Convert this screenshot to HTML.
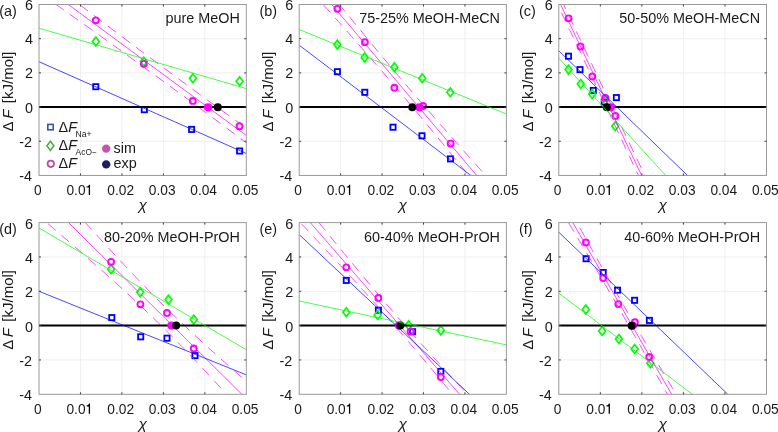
<!DOCTYPE html><html><head><meta charset="utf-8"><style>html,body{margin:0;padding:0;background:#fff;}svg{display:block;}text{font-family:"Liberation Sans",sans-serif;}</style></head><body>
<div style="will-change:transform">
<svg width="778" height="432" viewBox="0 0 778 432">
<defs>
<clipPath id="ca"><rect x="39" y="4.5" width="207.3" height="170.95"/></clipPath>
<clipPath id="cb"><rect x="299.2" y="4.5" width="207.2" height="170.95"/></clipPath>
<clipPath id="cc"><rect x="558.8" y="4.5" width="207.7" height="170.95"/></clipPath>
<clipPath id="cd"><rect x="39" y="222.6" width="207.3" height="171.7"/></clipPath>
<clipPath id="ce"><rect x="299.2" y="222.6" width="207.2" height="171.7"/></clipPath>
<clipPath id="cf"><rect x="558.8" y="222.6" width="207.7" height="171.7"/></clipPath>
</defs>
<path d="M80.46 4.5V175.45M121.92 4.5V175.45M163.38 4.5V175.45M204.84 4.5V175.45M39 38.69H246.3M39 72.88H246.3M39 107.07H246.3M39 141.26H246.3" stroke="#efefef" stroke-width="1" fill="none"/>
<g clip-path="url(#ca)">
<rect x="93.2" y="84.1" width="5.2" height="5.2" fill="none" stroke="#0000ff" stroke-width="1.8"/>
<rect x="141.7" y="107.1" width="5.2" height="5.2" fill="none" stroke="#0000ff" stroke-width="1.8"/>
<rect x="189" y="126.8" width="5.2" height="5.2" fill="none" stroke="#0000ff" stroke-width="1.8"/>
<rect x="237" y="148.4" width="5.2" height="5.2" fill="none" stroke="#0000ff" stroke-width="1.8"/>
<path d="M95.8 37.1L99.2 41.5L95.8 45.9L92.4 41.5Z" fill="none" stroke="#00ff00" stroke-width="1.7"/>
<path d="M143.8 57.2L147.2 61.6L143.8 66L140.4 61.6Z" fill="none" stroke="#00ff00" stroke-width="1.7"/>
<path d="M192.9 73.9L196.3 78.3L192.9 82.7L189.5 78.3Z" fill="none" stroke="#00ff00" stroke-width="1.7"/>
<path d="M239.6 76.9L243 81.3L239.6 85.7L236.2 81.3Z" fill="none" stroke="#00ff00" stroke-width="1.7"/>
<circle cx="95.8" cy="20.3" r="2.95" fill="none" stroke="#ff00ff" stroke-width="1.9"/>
<circle cx="143.8" cy="63.8" r="2.95" fill="none" stroke="#ff00ff" stroke-width="1.9"/>
<circle cx="192.8" cy="100.9" r="2.95" fill="none" stroke="#ff00ff" stroke-width="1.9"/>
<circle cx="239.5" cy="126.2" r="2.95" fill="none" stroke="#ff00ff" stroke-width="1.9"/>
<path d="M34 -20.66L251.3 139.18" stroke="#ff00ff" stroke-width="0.72" fill="none"/>
<path d="M34 -30.27L36 -28.73L38 -27.2L40 -25.67L42 -24.13L44 -22.6L46 -21.07L48 -19.54L50 -18.01L52 -16.47L54 -14.94L56 -13.41L58 -11.89L60 -10.36L62 -8.83L64 -7.3L66 -5.77L68 -4.25L70 -2.72L72 -1.2L74 0.33L76 1.85L78 3.38L80 4.9L82 6.42L84 7.94L86 9.46L88 10.98L90 12.5L92 14.02L94 15.54L96 17.06L98 18.57L100 20.09L102 21.6L104 23.12L106 24.63L108 26.14L110 27.65L112 29.16L114 30.67L116 32.18L118 33.69L120 35.2L122 36.7L124 38.21L126 39.71L128 41.22L130 42.72L132 44.22L134 45.72L136 47.22L138 48.72L140 50.22L142 51.71L144 53.21L146 54.7L148 56.2L150 57.69L152 59.18L154 60.67L156 62.16L158 63.64L160 65.13L162 66.62L164 68.1L166 69.58L168 71.06L170 72.54L172 74.02L174 75.5L176 76.98L178 78.46L180 79.93L182 81.4L184 82.88L186 84.35L188 85.82L190 87.29L192 88.75L194 90.22L196 91.68L198 93.15L200 94.61L202 96.07L204 97.53L206 98.99L208 100.45L210 101.91L212 103.36L214 104.82L216 106.27L218 107.72L220 109.18L222 110.63L224 112.07L226 113.52L228 114.97L230 116.42L232 117.86L234 119.3L236 120.75L238 122.19L240 123.63L242 125.07L244 126.51L246 127.95L248 129.38L250 130.82" stroke="#ff00ff" stroke-width="0.72" fill="none" stroke-dasharray="10.2 7.4" stroke-dashoffset="12.68"/>
<path d="M34 -11.04L36 -9.63L38 -8.23L40 -6.82L42 -5.41L44 -4L46 -2.59L48 -1.18L50 0.23L52 1.64L54 3.05L56 4.47L58 5.88L60 7.29L62 8.71L64 10.12L66 11.54L68 12.95L70 14.37L72 15.79L74 17.2L76 18.62L78 20.04L80 21.46L82 22.88L84 24.3L86 25.72L88 27.14L90 28.57L92 29.99L94 31.41L96 32.84L98 34.27L100 35.69L102 37.12L104 38.55L106 39.98L108 41.41L110 42.84L112 44.27L114 45.7L116 47.13L118 48.57L120 50L122 51.44L124 52.88L126 54.31L128 55.75L130 57.19L132 58.63L134 60.08L136 61.52L138 62.96L140 64.41L142 65.85L144 67.3L146 68.75L148 70.2L150 71.65L152 73.1L154 74.55L156 76L158 77.46L160 78.92L162 80.37L164 81.83L166 83.29L168 84.75L170 86.21L172 87.67L174 89.14L176 90.6L178 92.07L180 93.54L182 95.01L184 96.48L186 97.95L188 99.42L190 100.89L192 102.37L194 103.84L196 105.32L198 106.8L200 108.28L202 109.76L204 111.24L206 112.72L208 114.21L210 115.69L212 117.18L214 118.67L216 120.15L218 121.64L220 123.14L222 124.63L224 126.12L226 127.61L228 129.11L230 130.61L232 132.1L234 133.6L236 135.1L238 136.6L240 138.1L242 139.6L244 141.11L246 142.61L248 144.12L250 145.62" stroke="#ff00ff" stroke-width="0.72" fill="none" stroke-dasharray="10.2 7.4" stroke-dashoffset="8.97"/>
<path d="M39 107.07H246.3" stroke="#000" stroke-width="2"/>
<circle cx="208" cy="107.3" r="4.1" fill="#ff00ff"/>
<circle cx="217.8" cy="107.3" r="4.0" fill="#000"/>
<path d="M34 59.49L251.3 155.71" stroke="#0000ff" stroke-width="0.72" fill="none"/>
<path d="M34 26.74L251.3 90.06" stroke="#00ff00" stroke-width="0.72" fill="none"/>
</g>
<rect x="39" y="4.5" width="207.3" height="170.95" fill="none" stroke="#9a9a9a" stroke-width="1"/>
<path d="M80.46 175.45v-2M80.46 4.5v2M121.92 175.45v-2M121.92 4.5v2M163.38 175.45v-2M163.38 4.5v2M204.84 175.45v-2M204.84 4.5v2M39 38.69h2M246.3 38.69h-2M39 72.88h2M246.3 72.88h-2M39 107.07h2M246.3 107.07h-2M39 141.26h2M246.3 141.26h-2" stroke="#404040" stroke-width="1" fill="none"/>
<text transform="translate(37.8 0) scale(0.955 1)" x="0" y="194.95" font-size="14.4" text-anchor="middle" fill="#1a1a1a">0</text>
<text transform="translate(66.46 0) scale(0.955 1)" x="0" y="194.95" font-size="14.4" fill="#1a1a1a">0.0</text>
<path d="M90.04 194.95V184.75H89.01C88.76 185.85 87.96 186.45 86.56 186.55V187.6H88.75V194.95Z" fill="#000"/>
<text transform="translate(120.72 0) scale(0.955 1)" x="0" y="194.95" font-size="14.4" text-anchor="middle" fill="#1a1a1a">0.02</text>
<text transform="translate(162.18 0) scale(0.955 1)" x="0" y="194.95" font-size="14.4" text-anchor="middle" fill="#1a1a1a">0.03</text>
<text transform="translate(203.64 0) scale(0.955 1)" x="0" y="194.95" font-size="14.4" text-anchor="middle" fill="#1a1a1a">0.04</text>
<text transform="translate(245.1 0) scale(0.955 1)" x="0" y="194.95" font-size="14.4" text-anchor="middle" fill="#1a1a1a">0.05</text>
<text x="33" y="10" font-size="14.4" text-anchor="end" fill="#1a1a1a">6</text>
<text x="33" y="44.19" font-size="14.4" text-anchor="end" fill="#1a1a1a">4</text>
<text x="33" y="78.38" font-size="14.4" text-anchor="end" fill="#1a1a1a">2</text>
<text x="33" y="112.57" font-size="14.4" text-anchor="end" fill="#1a1a1a">0</text>
<text x="32" y="146.76" font-size="14.4" text-anchor="end" fill="#1a1a1a">-2</text>
<text x="32" y="180.95" font-size="14.4" text-anchor="end" fill="#1a1a1a">-4</text>
<text x="239.9" y="22.7" font-size="14.4" text-anchor="end" fill="#1a1a1a">pure MeOH</text>
<text x="-0.8" y="16.3" font-size="14.4" fill="#1a1a1a">(a)</text>
<text transform="translate(12.7 131.38) rotate(-90)" font-size="15" fill="#1a1a1a"><tspan x="0">Δ</tspan><tspan x="12.6" font-style="italic">F</tspan><tspan x="28.2">[kJ/mol]</tspan></text>
<text x="142.65" y="210.45" font-size="15.4" font-style="italic" text-anchor="middle" fill="#1a1a1a">χ</text>
<path d="M340.64 4.5V175.45M382.08 4.5V175.45M423.52 4.5V175.45M464.96 4.5V175.45M299.2 38.69H506.4M299.2 72.88H506.4M299.2 107.07H506.4M299.2 141.26H506.4" stroke="#efefef" stroke-width="1" fill="none"/>
<g clip-path="url(#cb)">
<rect x="334.8" y="69.1" width="5.2" height="5.2" fill="none" stroke="#0000ff" stroke-width="1.8"/>
<rect x="362.2" y="89.7" width="5.2" height="5.2" fill="none" stroke="#0000ff" stroke-width="1.8"/>
<rect x="390.4" y="124.6" width="5.2" height="5.2" fill="none" stroke="#0000ff" stroke-width="1.8"/>
<rect x="419.4" y="133.2" width="5.2" height="5.2" fill="none" stroke="#0000ff" stroke-width="1.8"/>
<rect x="447.9" y="156.3" width="5.2" height="5.2" fill="none" stroke="#0000ff" stroke-width="1.8"/>
<path d="M337.4 40.2L340.8 44.6L337.4 49L334 44.6Z" fill="none" stroke="#00ff00" stroke-width="1.7"/>
<path d="M364.7 53L368.1 57.4L364.7 61.8L361.3 57.4Z" fill="none" stroke="#00ff00" stroke-width="1.7"/>
<path d="M394.4 62.9L397.8 67.3L394.4 71.7L391 67.3Z" fill="none" stroke="#00ff00" stroke-width="1.7"/>
<path d="M422.2 73.8L425.6 78.2L422.2 82.6L418.8 78.2Z" fill="none" stroke="#00ff00" stroke-width="1.7"/>
<path d="M450.3 87.9L453.7 92.3L450.3 96.7L446.9 92.3Z" fill="none" stroke="#00ff00" stroke-width="1.7"/>
<circle cx="337.4" cy="8.8" r="2.95" fill="none" stroke="#ff00ff" stroke-width="1.9"/>
<circle cx="364.9" cy="42.2" r="2.95" fill="none" stroke="#ff00ff" stroke-width="1.9"/>
<circle cx="394.4" cy="87.7" r="2.95" fill="none" stroke="#ff00ff" stroke-width="1.9"/>
<circle cx="423.1" cy="106" r="2.95" fill="none" stroke="#ff00ff" stroke-width="1.9"/>
<circle cx="450.6" cy="143.6" r="2.95" fill="none" stroke="#ff00ff" stroke-width="1.9"/>
<path d="M294.2 -39.72L511.4 216.39" stroke="#ff00ff" stroke-width="0.72" fill="none"/>
<path d="M294.2 -51.72L296.2 -49.21L298.2 -46.71L300.2 -44.22L302.2 -41.72L304.2 -39.22L306.2 -36.73L308.2 -34.23L310.2 -31.74L312.2 -29.25L314.2 -26.76L316.2 -24.27L318.2 -21.79L320.2 -19.3L322.2 -16.82L324.2 -14.33L326.2 -11.85L328.2 -9.38L330.2 -6.9L332.2 -4.42L334.2 -1.95L336.2 0.52L338.2 2.99L340.2 5.45L342.2 7.92L344.2 10.38L346.2 12.84L348.2 15.29L350.2 17.75L352.2 20.2L354.2 22.65L356.2 25.09L358.2 27.53L360.2 29.97L362.2 32.41L364.2 34.84L366.2 37.27L368.2 39.7L370.2 42.12L372.2 44.54L374.2 46.95L376.2 49.36L378.2 51.77L380.2 54.17L382.2 56.57L384.2 58.97L386.2 61.36L388.2 63.74L390.2 66.13L392.2 68.5L394.2 70.88L396.2 73.24L398.2 75.61L400.2 77.97L402.2 80.32L404.2 82.68L406.2 85.02L408.2 87.37L410.2 89.7L412.2 92.04L414.2 94.37L416.2 96.69L418.2 99.01L420.2 101.33L422.2 103.64L424.2 105.95L426.2 108.25L428.2 110.56L430.2 112.85L432.2 115.15L434.2 117.44L436.2 119.72L438.2 122.01L440.2 124.29L442.2 126.56L444.2 128.84L446.2 131.11L448.2 133.38L450.2 135.64L452.2 137.9L454.2 140.16L456.2 142.42L458.2 144.67L460.2 146.93L462.2 149.18L464.2 151.42L466.2 153.67L468.2 155.91L470.2 158.15L472.2 160.39L474.2 162.63L476.2 164.87L478.2 167.1L480.2 169.33L482.2 171.56L484.2 173.79L486.2 176.02L488.2 178.25L490.2 180.47L492.2 182.7L494.2 184.92L496.2 187.14L498.2 189.36L500.2 191.58L502.2 193.8L504.2 196.01L506.2 198.23L508.2 200.44L510.2 202.66" stroke="#ff00ff" stroke-width="0.72" fill="none" stroke-dasharray="10.2 7.4" stroke-dashoffset="0.17"/>
<path d="M294.2 -27.72L296.2 -25.5L298.2 -23.29L300.2 -21.07L302.2 -18.85L304.2 -16.63L306.2 -14.41L308.2 -12.18L310.2 -9.96L312.2 -7.73L314.2 -5.51L316.2 -3.28L318.2 -1.05L320.2 1.18L322.2 3.41L324.2 5.65L326.2 7.88L328.2 10.12L330.2 12.36L332.2 14.6L334.2 16.85L336.2 19.09L338.2 21.34L340.2 23.59L342.2 25.84L344.2 28.1L346.2 30.36L348.2 32.62L350.2 34.88L352.2 37.15L354.2 39.41L356.2 41.68L358.2 43.96L360.2 46.24L362.2 48.52L364.2 50.8L366.2 53.09L368.2 55.38L370.2 57.67L372.2 59.97L374.2 62.27L376.2 64.58L378.2 66.89L380.2 69.2L382.2 71.52L384.2 73.84L386.2 76.17L388.2 78.5L390.2 80.83L392.2 83.17L394.2 85.51L396.2 87.86L398.2 90.21L400.2 92.57L402.2 94.93L404.2 97.3L406.2 99.67L408.2 102.04L410.2 104.42L412.2 106.8L414.2 109.19L416.2 111.58L418.2 113.97L420.2 116.37L422.2 118.78L424.2 121.19L426.2 123.6L428.2 126.01L430.2 128.43L432.2 130.86L434.2 133.28L436.2 135.71L438.2 138.14L440.2 140.58L442.2 143.02L444.2 145.46L446.2 147.91L448.2 150.36L450.2 152.81L452.2 155.26L454.2 157.72L456.2 160.18L458.2 162.64L460.2 165.11L462.2 167.57L464.2 170.04L466.2 172.51L468.2 174.99L470.2 177.46L472.2 179.94L474.2 182.42L476.2 184.9L478.2 187.38L480.2 189.86L482.2 192.35L484.2 194.84L486.2 197.33L488.2 199.82L490.2 202.31L492.2 204.8L494.2 207.29L496.2 209.79L498.2 212.29L500.2 214.78L502.2 217.28L504.2 219.78L506.2 222.28L508.2 224.78L510.2 227.29" stroke="#ff00ff" stroke-width="0.72" fill="none" stroke-dasharray="10.2 7.4" stroke-dashoffset="9.19"/>
<path d="M299.2 107.07H506.4" stroke="#000" stroke-width="2"/>
<circle cx="419.3" cy="107.3" r="4.1" fill="#ff00ff"/>
<circle cx="412.3" cy="107.3" r="4.0" fill="#000"/>
<path d="M294.2 41.41L511.4 206.18" stroke="#0000ff" stroke-width="0.72" fill="none"/>
<path d="M294.2 27.46L511.4 116.04" stroke="#00ff00" stroke-width="0.72" fill="none"/>
</g>
<rect x="299.2" y="4.5" width="207.2" height="170.95" fill="none" stroke="#9a9a9a" stroke-width="1"/>
<path d="M340.64 175.45v-2M340.64 4.5v2M382.08 175.45v-2M382.08 4.5v2M423.52 175.45v-2M423.52 4.5v2M464.96 175.45v-2M464.96 4.5v2M299.2 38.69h2M506.4 38.69h-2M299.2 72.88h2M506.4 72.88h-2M299.2 107.07h2M506.4 107.07h-2M299.2 141.26h2M506.4 141.26h-2" stroke="#404040" stroke-width="1" fill="none"/>
<text transform="translate(298 0) scale(0.955 1)" x="0" y="194.95" font-size="14.4" text-anchor="middle" fill="#1a1a1a">0</text>
<text transform="translate(326.64 0) scale(0.955 1)" x="0" y="194.95" font-size="14.4" fill="#1a1a1a">0.0</text>
<path d="M350.22 194.95V184.75H349.19C348.94 185.85 348.14 186.45 346.74 186.55V187.6H348.93V194.95Z" fill="#000"/>
<text transform="translate(380.88 0) scale(0.955 1)" x="0" y="194.95" font-size="14.4" text-anchor="middle" fill="#1a1a1a">0.02</text>
<text transform="translate(422.32 0) scale(0.955 1)" x="0" y="194.95" font-size="14.4" text-anchor="middle" fill="#1a1a1a">0.03</text>
<text transform="translate(463.76 0) scale(0.955 1)" x="0" y="194.95" font-size="14.4" text-anchor="middle" fill="#1a1a1a">0.04</text>
<text transform="translate(505.2 0) scale(0.955 1)" x="0" y="194.95" font-size="14.4" text-anchor="middle" fill="#1a1a1a">0.05</text>
<text x="293.2" y="10" font-size="14.4" text-anchor="end" fill="#1a1a1a">6</text>
<text x="293.2" y="44.19" font-size="14.4" text-anchor="end" fill="#1a1a1a">4</text>
<text x="293.2" y="78.38" font-size="14.4" text-anchor="end" fill="#1a1a1a">2</text>
<text x="293.2" y="112.57" font-size="14.4" text-anchor="end" fill="#1a1a1a">0</text>
<text x="292.2" y="146.76" font-size="14.4" text-anchor="end" fill="#1a1a1a">-2</text>
<text x="292.2" y="180.95" font-size="14.4" text-anchor="end" fill="#1a1a1a">-4</text>
<text x="500" y="22.7" font-size="14.4" text-anchor="end" fill="#1a1a1a">75-25% MeOH-MeCN</text>
<text x="259.4" y="16.3" font-size="14.4" fill="#1a1a1a">(b)</text>
<text transform="translate(272.9 131.38) rotate(-90)" font-size="15" fill="#1a1a1a"><tspan x="0">Δ</tspan><tspan x="12.6" font-style="italic">F</tspan><tspan x="28.2">[kJ/mol]</tspan></text>
<text x="402.8" y="210.45" font-size="15.4" font-style="italic" text-anchor="middle" fill="#1a1a1a">χ</text>
<path d="M600.34 4.5V175.45M641.88 4.5V175.45M683.42 4.5V175.45M724.96 4.5V175.45M558.8 38.69H766.5M558.8 72.88H766.5M558.8 107.07H766.5M558.8 141.26H766.5" stroke="#efefef" stroke-width="1" fill="none"/>
<g clip-path="url(#cc)">
<rect x="565.9" y="53.6" width="5.2" height="5.2" fill="none" stroke="#0000ff" stroke-width="1.8"/>
<rect x="577.4" y="67" width="5.2" height="5.2" fill="none" stroke="#0000ff" stroke-width="1.8"/>
<rect x="590.7" y="87.9" width="5.2" height="5.2" fill="none" stroke="#0000ff" stroke-width="1.8"/>
<rect x="601.7" y="99.4" width="5.2" height="5.2" fill="none" stroke="#0000ff" stroke-width="1.8"/>
<rect x="613.8" y="95" width="5.2" height="5.2" fill="none" stroke="#0000ff" stroke-width="1.8"/>
<path d="M568.5 65.2L571.9 69.6L568.5 74L565.1 69.6Z" fill="none" stroke="#00ff00" stroke-width="1.7"/>
<path d="M580.8 79.6L584.2 84L580.8 88.4L577.4 84Z" fill="none" stroke="#00ff00" stroke-width="1.7"/>
<path d="M592.2 89.6L595.6 94L592.2 98.4L588.8 94Z" fill="none" stroke="#00ff00" stroke-width="1.7"/>
<path d="M605.3 96.1L608.7 100.5L605.3 104.9L601.9 100.5Z" fill="none" stroke="#00ff00" stroke-width="1.7"/>
<path d="M615.2 121.8L618.6 126.2L615.2 130.6L611.8 126.2Z" fill="none" stroke="#00ff00" stroke-width="1.7"/>
<circle cx="568.6" cy="18.3" r="2.95" fill="none" stroke="#ff00ff" stroke-width="1.9"/>
<circle cx="580.5" cy="46.5" r="2.95" fill="none" stroke="#ff00ff" stroke-width="1.9"/>
<circle cx="592.3" cy="76.5" r="2.95" fill="none" stroke="#ff00ff" stroke-width="1.9"/>
<circle cx="605.4" cy="98" r="2.95" fill="none" stroke="#ff00ff" stroke-width="1.9"/>
<circle cx="615.3" cy="116" r="2.95" fill="none" stroke="#ff00ff" stroke-width="1.9"/>
<path d="M553.8 -9.85L771.5 449.6" stroke="#ff00ff" stroke-width="0.72" fill="none"/>
<path d="M553.8 -16.34L555.8 -12.09L557.8 -7.84L559.8 -3.59L561.8 0.65L563.8 4.9L565.8 9.14L567.8 13.38L569.8 17.62L571.8 21.86L573.8 26.09L575.8 30.33L577.8 34.56L579.8 38.79L581.8 43.02L583.8 47.25L585.8 51.48L587.8 55.7L589.8 59.93L591.8 64.15L593.8 68.37L595.8 72.59L597.8 76.8L599.8 81.02L601.8 85.23L603.8 89.45L605.8 93.66L607.8 97.87L609.8 102.07L611.8 106.28L613.8 110.48L615.8 114.69L617.8 118.89L619.8 123.09L621.8 127.29L623.8 131.48L625.8 135.68L627.8 139.87L629.8 144.06L631.8 148.26L633.8 152.45L635.8 156.63L637.8 160.82L639.8 165.01L641.8 169.19L643.8 173.37L645.8 177.56L647.8 181.74L649.8 185.92L651.8 190.09L653.8 194.27L655.8 198.45L657.8 202.62L659.8 206.79L661.8 210.97L663.8 215.14L665.8 219.31L667.8 223.48L669.8 227.65L671.8 231.81L673.8 235.98L675.8 240.15L677.8 244.31L679.8 248.47L681.8 252.64L683.8 256.8L685.8 260.96L687.8 265.12L689.8 269.28L691.8 273.44L693.8 277.6L695.8 281.75L697.8 285.91L699.8 290.07L701.8 294.22L703.8 298.37L705.8 302.53L707.8 306.68L709.8 310.83L711.8 314.99L713.8 319.14L715.8 323.29L717.8 327.44L719.8 331.59L721.8 335.74L723.8 339.88L725.8 344.03L727.8 348.18L729.8 352.33L731.8 356.47L733.8 360.62L735.8 364.76L737.8 368.91L739.8 373.05L741.8 377.2L743.8 381.34L745.8 385.49L747.8 389.63L749.8 393.77L751.8 397.91L753.8 402.05L755.8 406.2L757.8 410.34L759.8 414.48L761.8 418.62L763.8 422.76L765.8 426.9L767.8 431.04L769.8 435.18" stroke="#ff00ff" stroke-width="0.72" fill="none" stroke-dasharray="10.2 7.4" stroke-dashoffset="0"/>
<path d="M553.8 -3.36L555.8 0.83L557.8 5.02L559.8 9.22L561.8 13.41L563.8 17.61L565.8 21.81L567.8 26.01L569.8 30.22L571.8 34.42L573.8 38.62L575.8 42.83L577.8 47.04L579.8 51.25L581.8 55.46L583.8 59.68L585.8 63.89L587.8 68.11L589.8 72.33L591.8 76.55L593.8 80.77L595.8 84.99L597.8 89.22L599.8 93.44L601.8 97.67L603.8 101.9L605.8 106.13L607.8 110.37L609.8 114.6L611.8 118.84L613.8 123.07L615.8 127.31L617.8 131.55L619.8 135.8L621.8 140.04L623.8 144.28L625.8 148.53L627.8 152.78L629.8 157.03L631.8 161.28L633.8 165.53L635.8 169.78L637.8 174.04L639.8 178.3L641.8 182.55L643.8 186.81L645.8 191.07L647.8 195.33L649.8 199.6L651.8 203.86L653.8 208.13L655.8 212.39L657.8 216.66L659.8 220.93L661.8 225.2L663.8 229.47L665.8 233.74L667.8 238.01L669.8 242.29L671.8 246.56L673.8 250.84L675.8 255.11L677.8 259.39L679.8 263.67L681.8 267.95L683.8 272.23L685.8 276.51L687.8 280.79L689.8 285.07L691.8 289.36L693.8 293.64L695.8 297.92L697.8 302.21L699.8 306.5L701.8 310.78L703.8 315.07L705.8 319.36L707.8 323.65L709.8 327.94L711.8 332.23L713.8 336.52L715.8 340.81L717.8 345.1L719.8 349.39L721.8 353.69L723.8 357.98L725.8 362.27L727.8 366.57L729.8 370.86L731.8 375.16L733.8 379.46L735.8 383.75L737.8 388.05L739.8 392.35L741.8 396.64L743.8 400.94L745.8 405.24L747.8 409.54L749.8 413.84L751.8 418.14L753.8 422.44L755.8 426.74L757.8 431.04L759.8 435.34L761.8 439.64L763.8 443.95L765.8 448.25L767.8 452.55L769.8 456.85" stroke="#ff00ff" stroke-width="0.72" fill="none" stroke-dasharray="10.2 7.4" stroke-dashoffset="0"/>
<path d="M558.8 107.07H766.5" stroke="#000" stroke-width="2"/>
<circle cx="610.8" cy="107.3" r="4.1" fill="#ff00ff"/>
<circle cx="606.8" cy="107.3" r="4.0" fill="#000"/>
<path d="M553.8 45.96L771.5 256.88" stroke="#0000ff" stroke-width="0.72" fill="none"/>
<path d="M553.8 52.71L771.5 291.61" stroke="#00ff00" stroke-width="0.72" fill="none"/>
</g>
<rect x="558.8" y="4.5" width="207.7" height="170.95" fill="none" stroke="#9a9a9a" stroke-width="1"/>
<path d="M600.34 175.45v-2M600.34 4.5v2M641.88 175.45v-2M641.88 4.5v2M683.42 175.45v-2M683.42 4.5v2M724.96 175.45v-2M724.96 4.5v2M558.8 38.69h2M766.5 38.69h-2M558.8 72.88h2M766.5 72.88h-2M558.8 107.07h2M766.5 107.07h-2M558.8 141.26h2M766.5 141.26h-2" stroke="#404040" stroke-width="1" fill="none"/>
<text transform="translate(557.6 0) scale(0.955 1)" x="0" y="194.95" font-size="14.4" text-anchor="middle" fill="#1a1a1a">0</text>
<text transform="translate(586.34 0) scale(0.955 1)" x="0" y="194.95" font-size="14.4" fill="#1a1a1a">0.0</text>
<path d="M609.92 194.95V184.75H608.89C608.64 185.85 607.84 186.45 606.44 186.55V187.6H608.63V194.95Z" fill="#000"/>
<text transform="translate(640.68 0) scale(0.955 1)" x="0" y="194.95" font-size="14.4" text-anchor="middle" fill="#1a1a1a">0.02</text>
<text transform="translate(682.22 0) scale(0.955 1)" x="0" y="194.95" font-size="14.4" text-anchor="middle" fill="#1a1a1a">0.03</text>
<text transform="translate(723.76 0) scale(0.955 1)" x="0" y="194.95" font-size="14.4" text-anchor="middle" fill="#1a1a1a">0.04</text>
<text transform="translate(765.3 0) scale(0.955 1)" x="0" y="194.95" font-size="14.4" text-anchor="middle" fill="#1a1a1a">0.05</text>
<text x="552.8" y="10" font-size="14.4" text-anchor="end" fill="#1a1a1a">6</text>
<text x="552.8" y="44.19" font-size="14.4" text-anchor="end" fill="#1a1a1a">4</text>
<text x="552.8" y="78.38" font-size="14.4" text-anchor="end" fill="#1a1a1a">2</text>
<text x="552.8" y="112.57" font-size="14.4" text-anchor="end" fill="#1a1a1a">0</text>
<text x="551.8" y="146.76" font-size="14.4" text-anchor="end" fill="#1a1a1a">-2</text>
<text x="551.8" y="180.95" font-size="14.4" text-anchor="end" fill="#1a1a1a">-4</text>
<text x="760.1" y="22.7" font-size="14.4" text-anchor="end" fill="#1a1a1a">50-50% MeOH-MeCN</text>
<text x="519" y="16.3" font-size="14.4" fill="#1a1a1a">(c)</text>
<text transform="translate(532.5 131.38) rotate(-90)" font-size="15" fill="#1a1a1a"><tspan x="0">Δ</tspan><tspan x="12.6" font-style="italic">F</tspan><tspan x="28.2">[kJ/mol]</tspan></text>
<text x="662.65" y="210.45" font-size="15.4" font-style="italic" text-anchor="middle" fill="#1a1a1a">χ</text>
<path d="M80.46 222.6V394.3M121.92 222.6V394.3M163.38 222.6V394.3M204.84 222.6V394.3M39 256.94H246.3M39 291.28H246.3M39 325.62H246.3M39 359.96H246.3" stroke="#efefef" stroke-width="1" fill="none"/>
<g clip-path="url(#cd)">
<rect x="109.2" y="315" width="5.2" height="5.2" fill="none" stroke="#0000ff" stroke-width="1.8"/>
<rect x="138.1" y="334.2" width="5.2" height="5.2" fill="none" stroke="#0000ff" stroke-width="1.8"/>
<rect x="164.4" y="335.6" width="5.2" height="5.2" fill="none" stroke="#0000ff" stroke-width="1.8"/>
<rect x="192.4" y="353" width="5.2" height="5.2" fill="none" stroke="#0000ff" stroke-width="1.8"/>
<path d="M111.1 264.8L114.5 269.2L111.1 273.6L107.7 269.2Z" fill="none" stroke="#00ff00" stroke-width="1.7"/>
<path d="M140.2 287.9L143.6 292.3L140.2 296.7L136.8 292.3Z" fill="none" stroke="#00ff00" stroke-width="1.7"/>
<path d="M168.5 295.2L171.9 299.6L168.5 304L165.1 299.6Z" fill="none" stroke="#00ff00" stroke-width="1.7"/>
<path d="M193.8 315.2L197.2 319.6L193.8 324L190.4 319.6Z" fill="none" stroke="#00ff00" stroke-width="1.7"/>
<circle cx="111.1" cy="261.8" r="2.95" fill="none" stroke="#ff00ff" stroke-width="1.9"/>
<circle cx="140.4" cy="304.3" r="2.95" fill="none" stroke="#ff00ff" stroke-width="1.9"/>
<circle cx="167" cy="312.9" r="2.95" fill="none" stroke="#ff00ff" stroke-width="1.9"/>
<circle cx="193.8" cy="348.4" r="2.95" fill="none" stroke="#ff00ff" stroke-width="1.9"/>
<path d="M34 188.44L251.3 403.61" stroke="#ff00ff" stroke-width="0.72" fill="none"/>
<path d="M34 165.13L36 167.39L38 169.64L40 171.9L42 174.15L44 176.4L46 178.65L48 180.9L50 183.15L52 185.4L54 187.64L56 189.89L58 192.13L60 194.37L62 196.61L64 198.85L66 201.08L68 203.32L70 205.55L72 207.78L74 210.01L76 212.23L78 214.46L80 216.68L82 218.89L84 221.11L86 223.32L88 225.53L90 227.74L92 229.95L94 232.15L96 234.35L98 236.54L100 238.73L102 240.92L104 243.1L106 245.28L108 247.46L110 249.63L112 251.79L114 253.96L116 256.11L118 258.26L120 260.41L122 262.55L124 264.68L126 266.81L128 268.94L130 271.05L132 273.16L134 275.26L136 277.36L138 279.45L140 281.53L142 283.6L144 285.67L146 287.73L148 289.77L150 291.82L152 293.85L154 295.87L156 297.89L158 299.89L160 301.89L162 303.88L164 305.86L166 307.83L168 309.8L170 311.75L172 313.7L174 315.63L176 317.56L178 319.48L180 321.39L182 323.3L184 325.19L186 327.08L188 328.96L190 330.83L192 332.7L194 334.55L196 336.41L198 338.25L200 340.09L202 341.92L204 343.75L206 345.57L208 347.38L210 349.19L212 351L214 352.79L216 354.59L218 356.38L220 358.16L222 359.95L224 361.72L226 363.5L228 365.27L230 367.03L232 368.8L234 370.55L236 372.31L238 374.06L240 375.81L242 377.56L244 379.31L246 381.05L248 382.79L250 384.53" stroke="#ff00ff" stroke-width="0.72" fill="none" stroke-dasharray="10.2 7.4" stroke-dashoffset="12.03"/>
<path d="M34 211.74L36 213.45L38 215.15L40 216.86L42 218.57L44 220.28L46 221.99L48 223.7L50 225.41L52 227.12L54 228.84L56 230.56L58 232.28L60 234L62 235.72L64 237.44L66 239.17L68 240.89L70 242.62L72 244.35L74 246.09L76 247.82L78 249.56L80 251.3L82 253.04L84 254.79L86 256.53L88 258.28L90 260.04L92 261.79L94 263.55L96 265.31L98 267.08L100 268.85L102 270.62L104 272.4L106 274.18L108 275.97L110 277.76L112 279.55L114 281.35L116 283.16L118 284.97L120 286.78L122 288.6L124 290.43L126 292.26L128 294.1L130 295.94L132 297.79L134 299.65L136 301.52L138 303.39L140 305.27L142 307.16L144 309.05L146 310.96L148 312.87L150 314.79L152 316.71L154 318.65L156 320.6L158 322.55L160 324.51L162 326.48L164 328.46L166 330.45L168 332.45L170 334.46L172 336.47L174 338.5L176 340.53L178 342.57L180 344.62L182 346.68L184 348.74L186 350.82L188 352.9L190 354.99L192 357.08L194 359.19L196 361.29L198 363.41L200 365.53L202 367.66L204 369.8L206 371.94L208 374.08L210 376.23L212 378.39L214 380.55L216 382.72L218 384.89L220 387.06L222 389.24L224 391.43L226 393.61L228 395.81L230 398L232 400.2L234 402.4L236 404.6L238 406.81L240 409.02L242 411.24L244 413.45L246 415.67L248 417.89L250 420.12" stroke="#ff00ff" stroke-width="0.72" fill="none" stroke-dasharray="10.2 7.4" stroke-dashoffset="16.63"/>
<path d="M39 325.62H246.3" stroke="#000" stroke-width="2"/>
<circle cx="171.4" cy="325.6" r="4.1" fill="#ff00ff"/>
<circle cx="176.1" cy="325.6" r="4.0" fill="#000"/>
<path d="M34 289.28L251.3 376.88" stroke="#0000ff" stroke-width="0.72" fill="none"/>
<path d="M34 225.06L251.3 352.68" stroke="#00ff00" stroke-width="0.72" fill="none"/>
</g>
<rect x="39" y="222.6" width="207.3" height="171.7" fill="none" stroke="#9a9a9a" stroke-width="1"/>
<path d="M80.46 394.3v-2M80.46 222.6v2M121.92 394.3v-2M121.92 222.6v2M163.38 394.3v-2M163.38 222.6v2M204.84 394.3v-2M204.84 222.6v2M39 256.94h2M246.3 256.94h-2M39 291.28h2M246.3 291.28h-2M39 325.62h2M246.3 325.62h-2M39 359.96h2M246.3 359.96h-2" stroke="#404040" stroke-width="1" fill="none"/>
<text transform="translate(37.8 0) scale(0.955 1)" x="0" y="413.8" font-size="14.4" text-anchor="middle" fill="#1a1a1a">0</text>
<text transform="translate(66.46 0) scale(0.955 1)" x="0" y="413.8" font-size="14.4" fill="#1a1a1a">0.0</text>
<path d="M90.04 413.8V403.6H89.01C88.76 404.7 87.96 405.3 86.56 405.4V406.45H88.75V413.8Z" fill="#000"/>
<text transform="translate(120.72 0) scale(0.955 1)" x="0" y="413.8" font-size="14.4" text-anchor="middle" fill="#1a1a1a">0.02</text>
<text transform="translate(162.18 0) scale(0.955 1)" x="0" y="413.8" font-size="14.4" text-anchor="middle" fill="#1a1a1a">0.03</text>
<text transform="translate(203.64 0) scale(0.955 1)" x="0" y="413.8" font-size="14.4" text-anchor="middle" fill="#1a1a1a">0.04</text>
<text transform="translate(245.1 0) scale(0.955 1)" x="0" y="413.8" font-size="14.4" text-anchor="middle" fill="#1a1a1a">0.05</text>
<text x="33" y="228.7" font-size="14.4" text-anchor="end" fill="#1a1a1a">6</text>
<text x="33" y="263.04" font-size="14.4" text-anchor="end" fill="#1a1a1a">4</text>
<text x="33" y="297.38" font-size="14.4" text-anchor="end" fill="#1a1a1a">2</text>
<text x="33" y="331.72" font-size="14.4" text-anchor="end" fill="#1a1a1a">0</text>
<text x="32" y="366.06" font-size="14.4" text-anchor="end" fill="#1a1a1a">-2</text>
<text x="32" y="400.4" font-size="14.4" text-anchor="end" fill="#1a1a1a">-4</text>
<text x="239.9" y="241.8" font-size="14.4" text-anchor="end" fill="#1a1a1a">80-20% MeOH-PrOH</text>
<text x="-0.8" y="234.4" font-size="14.4" fill="#1a1a1a">(d)</text>
<text transform="translate(12.7 349.85) rotate(-90)" font-size="15" fill="#1a1a1a"><tspan x="0">Δ</tspan><tspan x="12.6" font-style="italic">F</tspan><tspan x="28.2">[kJ/mol]</tspan></text>
<text x="142.65" y="429.3" font-size="15.4" font-style="italic" text-anchor="middle" fill="#1a1a1a">χ</text>
<path d="M340.64 222.6V394.3M382.08 222.6V394.3M423.52 222.6V394.3M464.96 222.6V394.3M299.2 256.94H506.4M299.2 291.28H506.4M299.2 325.62H506.4M299.2 359.96H506.4" stroke="#efefef" stroke-width="1" fill="none"/>
<g clip-path="url(#ce)">
<rect x="343.7" y="277.8" width="5.2" height="5.2" fill="none" stroke="#0000ff" stroke-width="1.8"/>
<rect x="375.8" y="307.6" width="5.2" height="5.2" fill="none" stroke="#0000ff" stroke-width="1.8"/>
<rect x="410" y="329.1" width="5.2" height="5.2" fill="none" stroke="#0000ff" stroke-width="1.8"/>
<rect x="438.2" y="368.8" width="5.2" height="5.2" fill="none" stroke="#0000ff" stroke-width="1.8"/>
<path d="M346.3 307.8L349.7 312.2L346.3 316.6L342.9 312.2Z" fill="none" stroke="#00ff00" stroke-width="1.7"/>
<path d="M377.6 310.6L381 315L377.6 319.4L374.2 315Z" fill="none" stroke="#00ff00" stroke-width="1.7"/>
<path d="M408.7 320.9L412.1 325.3L408.7 329.7L405.3 325.3Z" fill="none" stroke="#00ff00" stroke-width="1.7"/>
<path d="M440.8 326L444.2 330.4L440.8 334.8L437.4 330.4Z" fill="none" stroke="#00ff00" stroke-width="1.7"/>
<circle cx="346.3" cy="267.3" r="2.95" fill="none" stroke="#ff00ff" stroke-width="1.9"/>
<circle cx="378.4" cy="297.9" r="2.95" fill="none" stroke="#ff00ff" stroke-width="1.9"/>
<circle cx="410.6" cy="331.5" r="2.95" fill="none" stroke="#ff00ff" stroke-width="1.9"/>
<circle cx="440.8" cy="377" r="2.95" fill="none" stroke="#ff00ff" stroke-width="1.9"/>
<path d="M294.2 204.08L511.4 453.87" stroke="#ff00ff" stroke-width="0.72" fill="none"/>
<path d="M294.2 192.1L296.2 194.57L298.2 197.04L300.2 199.51L302.2 201.98L304.2 204.45L306.2 206.92L308.2 209.38L310.2 211.85L312.2 214.32L314.2 216.78L316.2 219.24L318.2 221.7L320.2 224.16L322.2 226.62L324.2 229.07L326.2 231.53L328.2 233.98L330.2 236.43L332.2 238.88L334.2 241.33L336.2 243.77L338.2 246.21L340.2 248.65L342.2 251.09L344.2 253.53L346.2 255.96L348.2 258.39L350.2 260.82L352.2 263.24L354.2 265.66L356.2 268.07L358.2 270.49L360.2 272.9L362.2 275.3L364.2 277.7L366.2 280.1L368.2 282.49L370.2 284.87L372.2 287.26L374.2 289.63L376.2 292L378.2 294.37L380.2 296.73L382.2 299.08L384.2 301.43L386.2 303.77L388.2 306.11L390.2 308.44L392.2 310.76L394.2 313.08L396.2 315.39L398.2 317.69L400.2 319.98L402.2 322.27L404.2 324.56L406.2 326.83L408.2 329.1L410.2 331.37L412.2 333.62L414.2 335.87L416.2 338.12L418.2 340.36L420.2 342.59L422.2 344.82L424.2 347.04L426.2 349.26L428.2 351.47L430.2 353.68L432.2 355.88L434.2 358.08L436.2 360.28L438.2 362.47L440.2 364.65L442.2 366.84L444.2 369.02L446.2 371.19L448.2 373.37L450.2 375.54L452.2 377.7L454.2 379.87L456.2 382.03L458.2 384.19L460.2 386.35L462.2 388.5L464.2 390.66L466.2 392.81L468.2 394.96L470.2 397.1L472.2 399.25L474.2 401.39L476.2 403.53L478.2 405.67L480.2 407.81L482.2 409.95L484.2 412.09L486.2 414.22L488.2 416.36L490.2 418.49L492.2 420.62L494.2 422.75L496.2 424.88L498.2 427.01L500.2 429.14L502.2 431.27L504.2 433.39L506.2 435.52L508.2 437.64L510.2 439.77" stroke="#ff00ff" stroke-width="0.72" fill="none" stroke-dasharray="10.2 7.4" stroke-dashoffset="13.74"/>
<path d="M294.2 216.07L296.2 218.2L298.2 220.33L300.2 222.46L302.2 224.59L304.2 226.72L306.2 228.85L308.2 230.98L310.2 233.12L312.2 235.25L314.2 237.39L316.2 239.53L318.2 241.67L320.2 243.81L322.2 245.95L324.2 248.1L326.2 250.24L328.2 252.39L330.2 254.54L332.2 256.69L334.2 258.84L336.2 261L338.2 263.16L340.2 265.32L342.2 267.48L344.2 269.64L346.2 271.81L348.2 273.98L350.2 276.16L352.2 278.33L354.2 280.52L356.2 282.7L358.2 284.89L360.2 287.08L362.2 289.27L364.2 291.47L366.2 293.68L368.2 295.89L370.2 298.1L372.2 300.32L374.2 302.54L376.2 304.77L378.2 307.01L380.2 309.25L382.2 311.49L384.2 313.74L386.2 316L388.2 318.27L390.2 320.54L392.2 322.82L394.2 325.1L396.2 327.39L398.2 329.69L400.2 331.99L402.2 334.3L404.2 336.62L406.2 338.94L408.2 341.27L410.2 343.61L412.2 345.95L414.2 348.3L416.2 350.66L418.2 353.02L420.2 355.39L422.2 357.76L424.2 360.14L426.2 362.52L428.2 364.91L430.2 367.3L432.2 369.7L434.2 372.1L436.2 374.5L438.2 376.91L440.2 379.32L442.2 381.74L444.2 384.16L446.2 386.59L448.2 389.01L450.2 391.44L452.2 393.88L454.2 396.31L456.2 398.75L458.2 401.19L460.2 403.63L462.2 406.08L464.2 408.52L466.2 410.97L468.2 413.43L470.2 415.88L472.2 418.33L474.2 420.79L476.2 423.25L478.2 425.71L480.2 428.17L482.2 430.63L484.2 433.09L486.2 435.56L488.2 438.02L490.2 440.49L492.2 442.96L494.2 445.43L496.2 447.9L498.2 450.37L500.2 452.84L502.2 455.32L504.2 457.79L506.2 460.26L508.2 462.74L510.2 465.22" stroke="#ff00ff" stroke-width="0.72" fill="none" stroke-dasharray="10.2 7.4" stroke-dashoffset="6.93"/>
<path d="M299.2 325.62H506.4" stroke="#000" stroke-width="2"/>
<circle cx="398.9" cy="325.6" r="4.1" fill="#ff00ff"/>
<circle cx="400.4" cy="325.6" r="4.0" fill="#000"/>
<path d="M294.2 229.91L511.4 433.59" stroke="#0000ff" stroke-width="0.72" fill="none"/>
<path d="M294.2 299.94L511.4 345.96" stroke="#00ff00" stroke-width="0.72" fill="none"/>
</g>
<rect x="299.2" y="222.6" width="207.2" height="171.7" fill="none" stroke="#9a9a9a" stroke-width="1"/>
<path d="M340.64 394.3v-2M340.64 222.6v2M382.08 394.3v-2M382.08 222.6v2M423.52 394.3v-2M423.52 222.6v2M464.96 394.3v-2M464.96 222.6v2M299.2 256.94h2M506.4 256.94h-2M299.2 291.28h2M506.4 291.28h-2M299.2 325.62h2M506.4 325.62h-2M299.2 359.96h2M506.4 359.96h-2" stroke="#404040" stroke-width="1" fill="none"/>
<text transform="translate(298 0) scale(0.955 1)" x="0" y="413.8" font-size="14.4" text-anchor="middle" fill="#1a1a1a">0</text>
<text transform="translate(326.64 0) scale(0.955 1)" x="0" y="413.8" font-size="14.4" fill="#1a1a1a">0.0</text>
<path d="M350.22 413.8V403.6H349.19C348.94 404.7 348.14 405.3 346.74 405.4V406.45H348.93V413.8Z" fill="#000"/>
<text transform="translate(380.88 0) scale(0.955 1)" x="0" y="413.8" font-size="14.4" text-anchor="middle" fill="#1a1a1a">0.02</text>
<text transform="translate(422.32 0) scale(0.955 1)" x="0" y="413.8" font-size="14.4" text-anchor="middle" fill="#1a1a1a">0.03</text>
<text transform="translate(463.76 0) scale(0.955 1)" x="0" y="413.8" font-size="14.4" text-anchor="middle" fill="#1a1a1a">0.04</text>
<text transform="translate(505.2 0) scale(0.955 1)" x="0" y="413.8" font-size="14.4" text-anchor="middle" fill="#1a1a1a">0.05</text>
<text x="293.2" y="228.7" font-size="14.4" text-anchor="end" fill="#1a1a1a">6</text>
<text x="293.2" y="263.04" font-size="14.4" text-anchor="end" fill="#1a1a1a">4</text>
<text x="293.2" y="297.38" font-size="14.4" text-anchor="end" fill="#1a1a1a">2</text>
<text x="293.2" y="331.72" font-size="14.4" text-anchor="end" fill="#1a1a1a">0</text>
<text x="292.2" y="366.06" font-size="14.4" text-anchor="end" fill="#1a1a1a">-2</text>
<text x="292.2" y="400.4" font-size="14.4" text-anchor="end" fill="#1a1a1a">-4</text>
<text x="500" y="241.8" font-size="14.4" text-anchor="end" fill="#1a1a1a">60-40% MeOH-PrOH</text>
<text x="259.4" y="234.4" font-size="14.4" fill="#1a1a1a">(e)</text>
<text transform="translate(272.9 349.85) rotate(-90)" font-size="15" fill="#1a1a1a"><tspan x="0">Δ</tspan><tspan x="12.6" font-style="italic">F</tspan><tspan x="28.2">[kJ/mol]</tspan></text>
<text x="402.8" y="429.3" font-size="15.4" font-style="italic" text-anchor="middle" fill="#1a1a1a">χ</text>
<path d="M600.34 222.6V394.3M641.88 222.6V394.3M683.42 222.6V394.3M724.96 222.6V394.3M558.8 256.94H766.5M558.8 291.28H766.5M558.8 325.62H766.5M558.8 359.96H766.5" stroke="#efefef" stroke-width="1" fill="none"/>
<g clip-path="url(#cf)">
<rect x="583.5" y="256.1" width="5.2" height="5.2" fill="none" stroke="#0000ff" stroke-width="1.8"/>
<rect x="600.6" y="269.9" width="5.2" height="5.2" fill="none" stroke="#0000ff" stroke-width="1.8"/>
<rect x="614.9" y="287.6" width="5.2" height="5.2" fill="none" stroke="#0000ff" stroke-width="1.8"/>
<rect x="632" y="297.7" width="5.2" height="5.2" fill="none" stroke="#0000ff" stroke-width="1.8"/>
<rect x="646.8" y="317.8" width="5.2" height="5.2" fill="none" stroke="#0000ff" stroke-width="1.8"/>
<path d="M585.8 305L589.2 309.4L585.8 313.8L582.4 309.4Z" fill="none" stroke="#00ff00" stroke-width="1.7"/>
<path d="M602.1 326.6L605.5 331L602.1 335.4L598.7 331Z" fill="none" stroke="#00ff00" stroke-width="1.7"/>
<path d="M618.9 334.6L622.3 339L618.9 343.4L615.5 339Z" fill="none" stroke="#00ff00" stroke-width="1.7"/>
<path d="M634.6 344.6L638 349L634.6 353.4L631.2 349Z" fill="none" stroke="#00ff00" stroke-width="1.7"/>
<path d="M650.3 358.8L653.7 363.2L650.3 367.6L646.9 363.2Z" fill="none" stroke="#00ff00" stroke-width="1.7"/>
<circle cx="585.9" cy="242.4" r="2.95" fill="none" stroke="#ff00ff" stroke-width="1.9"/>
<circle cx="603.2" cy="278" r="2.95" fill="none" stroke="#ff00ff" stroke-width="1.9"/>
<circle cx="618.3" cy="304.1" r="2.95" fill="none" stroke="#ff00ff" stroke-width="1.9"/>
<circle cx="634.9" cy="322.2" r="2.95" fill="none" stroke="#ff00ff" stroke-width="1.9"/>
<circle cx="649.2" cy="357" r="2.95" fill="none" stroke="#ff00ff" stroke-width="1.9"/>
<path d="M553.8 189.58L771.5 567.91" stroke="#ff00ff" stroke-width="0.72" fill="none"/>
<path d="M553.8 180.97L555.8 184.6L557.8 188.23L559.8 191.85L561.8 195.48L563.8 199.1L565.8 202.71L567.8 206.33L569.8 209.94L571.8 213.55L573.8 217.15L575.8 220.76L577.8 224.36L579.8 227.95L581.8 231.54L583.8 235.13L585.8 238.72L587.8 242.29L589.8 245.87L591.8 249.44L593.8 253L595.8 256.56L597.8 260.12L599.8 263.66L601.8 267.2L603.8 270.74L605.8 274.27L607.8 277.79L609.8 281.31L611.8 284.82L613.8 288.32L615.8 291.81L617.8 295.3L619.8 298.78L621.8 302.25L623.8 305.72L625.8 309.18L627.8 312.63L629.8 316.07L631.8 319.51L633.8 322.94L635.8 326.36L637.8 329.78L639.8 333.19L641.8 336.6L643.8 339.99L645.8 343.39L647.8 346.78L649.8 350.16L651.8 353.54L653.8 356.91L655.8 360.28L657.8 363.64L659.8 367L661.8 370.36L663.8 373.71L665.8 377.06L667.8 380.41L669.8 383.75L671.8 387.09L673.8 390.43L675.8 393.76L677.8 397.1L679.8 400.43L681.8 403.75L683.8 407.08L685.8 410.4L687.8 413.72L689.8 417.04L691.8 420.36L693.8 423.68L695.8 426.99L697.8 430.3L699.8 433.62L701.8 436.93L703.8 440.24L705.8 443.54L707.8 446.85L709.8 450.16L711.8 453.46L713.8 456.76L715.8 460.07L717.8 463.37L719.8 466.67L721.8 469.97L723.8 473.27L725.8 476.57L727.8 479.87L729.8 483.16L731.8 486.46L733.8 489.76L735.8 493.05L737.8 496.35L739.8 499.64L741.8 502.93L743.8 506.23L745.8 509.52L747.8 512.81L749.8 516.1L751.8 519.39L753.8 522.69L755.8 525.98L757.8 529.27L759.8 532.56L761.8 535.85L763.8 539.13L765.8 542.42L767.8 545.71L769.8 549" stroke="#ff00ff" stroke-width="0.72" fill="none" stroke-dasharray="10.2 7.4" stroke-dashoffset="16.97"/>
<path d="M553.8 198.19L555.8 201.51L557.8 204.84L559.8 208.16L561.8 211.49L563.8 214.82L565.8 218.16L567.8 221.49L569.8 224.83L571.8 228.18L573.8 231.52L575.8 234.87L577.8 238.22L579.8 241.58L581.8 244.94L583.8 248.3L585.8 251.67L587.8 255.04L589.8 258.42L591.8 261.8L593.8 265.19L595.8 268.58L597.8 271.98L599.8 275.38L601.8 278.79L603.8 282.21L605.8 285.63L607.8 289.06L609.8 292.49L611.8 295.94L613.8 299.39L615.8 302.84L617.8 306.31L619.8 309.78L621.8 313.26L623.8 316.74L625.8 320.24L627.8 323.74L629.8 327.24L631.8 330.76L633.8 334.28L635.8 337.81L637.8 341.34L639.8 344.88L641.8 348.43L643.8 351.98L645.8 355.54L647.8 359.1L649.8 362.67L651.8 366.24L653.8 369.82L655.8 373.4L657.8 376.99L659.8 380.58L661.8 384.18L663.8 387.78L665.8 391.38L667.8 394.98L669.8 398.59L671.8 402.2L673.8 405.82L675.8 409.43L677.8 413.05L679.8 416.68L681.8 420.3L683.8 423.93L685.8 427.55L687.8 431.18L689.8 434.82L691.8 438.45L693.8 442.08L695.8 445.72L697.8 449.36L699.8 453L701.8 456.64L703.8 460.28L705.8 463.93L707.8 467.57L709.8 471.22L711.8 474.86L713.8 478.51L715.8 482.16L717.8 485.81L719.8 489.46L721.8 493.11L723.8 496.76L725.8 500.42L727.8 504.07L729.8 507.72L731.8 511.38L733.8 515.03L735.8 518.69L737.8 522.35L739.8 526L741.8 529.66L743.8 533.32L745.8 536.98L747.8 540.64L749.8 544.3L751.8 547.96L753.8 551.62L755.8 555.28L757.8 558.94L759.8 562.6L761.8 566.26L763.8 569.93L765.8 573.59L767.8 577.25L769.8 580.92" stroke="#ff00ff" stroke-width="0.72" fill="none" stroke-dasharray="10.2 7.4" stroke-dashoffset="6.6"/>
<path d="M558.8 325.62H766.5" stroke="#000" stroke-width="2"/>
<circle cx="632.5" cy="325.6" r="4.1" fill="#ff00ff"/>
<circle cx="631.7" cy="325.8" r="4.0" fill="#000"/>
<path d="M553.8 227.4L771.5 436.22" stroke="#0000ff" stroke-width="0.72" fill="none"/>
<path d="M553.8 289.42L771.5 454.16" stroke="#00ff00" stroke-width="0.72" fill="none"/>
</g>
<rect x="558.8" y="222.6" width="207.7" height="171.7" fill="none" stroke="#9a9a9a" stroke-width="1"/>
<path d="M600.34 394.3v-2M600.34 222.6v2M641.88 394.3v-2M641.88 222.6v2M683.42 394.3v-2M683.42 222.6v2M724.96 394.3v-2M724.96 222.6v2M558.8 256.94h2M766.5 256.94h-2M558.8 291.28h2M766.5 291.28h-2M558.8 325.62h2M766.5 325.62h-2M558.8 359.96h2M766.5 359.96h-2" stroke="#404040" stroke-width="1" fill="none"/>
<text transform="translate(557.6 0) scale(0.955 1)" x="0" y="413.8" font-size="14.4" text-anchor="middle" fill="#1a1a1a">0</text>
<text transform="translate(586.34 0) scale(0.955 1)" x="0" y="413.8" font-size="14.4" fill="#1a1a1a">0.0</text>
<path d="M609.92 413.8V403.6H608.89C608.64 404.7 607.84 405.3 606.44 405.4V406.45H608.63V413.8Z" fill="#000"/>
<text transform="translate(640.68 0) scale(0.955 1)" x="0" y="413.8" font-size="14.4" text-anchor="middle" fill="#1a1a1a">0.02</text>
<text transform="translate(682.22 0) scale(0.955 1)" x="0" y="413.8" font-size="14.4" text-anchor="middle" fill="#1a1a1a">0.03</text>
<text transform="translate(723.76 0) scale(0.955 1)" x="0" y="413.8" font-size="14.4" text-anchor="middle" fill="#1a1a1a">0.04</text>
<text transform="translate(765.3 0) scale(0.955 1)" x="0" y="413.8" font-size="14.4" text-anchor="middle" fill="#1a1a1a">0.05</text>
<text x="552.8" y="228.7" font-size="14.4" text-anchor="end" fill="#1a1a1a">6</text>
<text x="552.8" y="263.04" font-size="14.4" text-anchor="end" fill="#1a1a1a">4</text>
<text x="552.8" y="297.38" font-size="14.4" text-anchor="end" fill="#1a1a1a">2</text>
<text x="552.8" y="331.72" font-size="14.4" text-anchor="end" fill="#1a1a1a">0</text>
<text x="551.8" y="366.06" font-size="14.4" text-anchor="end" fill="#1a1a1a">-2</text>
<text x="551.8" y="400.4" font-size="14.4" text-anchor="end" fill="#1a1a1a">-4</text>
<text x="760.1" y="241.8" font-size="14.4" text-anchor="end" fill="#1a1a1a">40-60% MeOH-PrOH</text>
<text x="519" y="234.4" font-size="14.4" fill="#1a1a1a">(f)</text>
<text transform="translate(532.5 349.85) rotate(-90)" font-size="15" fill="#1a1a1a"><tspan x="0">Δ</tspan><tspan x="12.6" font-style="italic">F</tspan><tspan x="28.2">[kJ/mol]</tspan></text>
<text x="662.65" y="429.3" font-size="15.4" font-style="italic" text-anchor="middle" fill="#1a1a1a">χ</text>
<rect x="47.8" y="124.4" width="5.4" height="5.4" fill="none" stroke="#3a55b8" stroke-width="1.6"/>
<path d="M50.4 141.2L53.9 145.8L50.4 150.4L46.9 145.8Z" fill="none" stroke="#4fae48" stroke-width="1.6"/>
<circle cx="50.8" cy="163.8" r="3.2" fill="none" stroke="#b84cb0" stroke-width="1.8"/>
<circle cx="106.2" cy="148.6" r="4.2" fill="#c652b0"/>
<circle cx="106.2" cy="164.4" r="4.2" fill="#221e66"/>
<text x="58.6" y="132" font-size="14.4" fill="#1a1a1a">Δ<tspan font-style="italic">F</tspan><tspan font-size="8.6" dx="-1.4" dy="4.6">Na+</tspan></text>
<text x="58.6" y="150" font-size="14.4" fill="#1a1a1a">Δ<tspan font-style="italic">F</tspan><tspan font-size="8.4" dx="-1.4" dy="4.6">AcO−</tspan></text>
<text x="58.6" y="168" font-size="14.4" fill="#1a1a1a">Δ<tspan font-style="italic">F</tspan></text>
<text x="113.5" y="152.5" font-size="14.4" fill="#1a1a1a">sim</text>
<text x="113.5" y="167.5" font-size="14.4" fill="#1a1a1a">exp</text>
</svg></div></body></html>
